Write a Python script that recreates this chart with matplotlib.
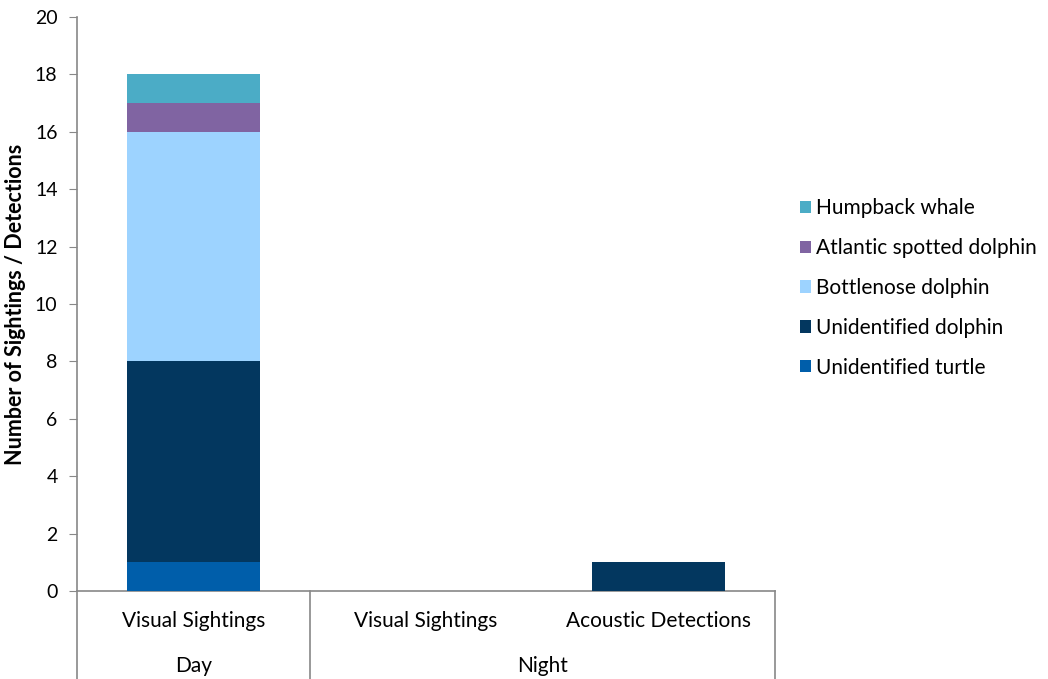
import matplotlib.pyplot as plt
import numpy as np
from matplotlib.transforms import blended_transform_factory

plt.rcParams['font.family'] = ['Lato', 'DejaVu Sans']

periods = ['Day', 'Night']
methods = ['Visual Sightings', 'Visual Sightings', 'Acoustic Detections']
period_of = [0, 1, 1]

species = ['Unidentified turtle', 'Unidentified dolphin', 'Bottlenose dolphin',
           'Atlantic spotted dolphin', 'Humpback whale']
turtle = [1, 0, 0]
unid_dolphin = [7, 0, 1]
bottlenose = [8, 0, 0]
spotted = [1, 0, 0]
humpback = [1, 0, 0]
colors = ['#005EAA', '#03375F', '#9DD3FF', '#8064A2', '#4BACC6']

fig = plt.figure(figsize=(10.48, 6.79), dpi=100)
ax = fig.add_axes([77/1048, 1-591/679, 698/1048, 574/679])

x = np.arange(len(methods))
bottom = np.zeros(len(methods))
for name, vals, c in zip(species, [turtle, unid_dolphin, bottlenose, spotted, humpback], colors):
    vals = np.array(vals, dtype=float)
    ax.bar(x, vals, 0.57, bottom=bottom, color=c, label=name, zorder=3)
    bottom += vals

ax.set_xlim(-0.5, 2.5)
ax.set_ylim(0, 20)
ax.set_yticks(np.arange(0, 21, 2))
ax.tick_params(axis='y', labelsize=14, length=6, color='#888888', pad=8)
ax.set_xticks([])
for s in ['top', 'right']:
    ax.spines[s].set_visible(False)
for s in ['left', 'bottom']:
    ax.spines[s].set_color('#888888')
    ax.spines[s].set_linewidth(1.2)
ax.set_ylabel('Number of Sightings / Detections', fontsize=15.5, fontweight='bold')
ax.yaxis.set_label_coords(-51/698, 0.5)

# two-level category axis
tr = blended_transform_factory(ax.transData, fig.transFigure)
for xi, m in zip(x, methods):
    ax.text(xi, 1-621/679, m, transform=tr, ha='center', va='center', fontsize=15)
for p in range(len(periods)):
    idx = [i for i, g in enumerate(period_of) if g == p]
    ax.text(np.mean(idx), 1-666/679, periods[p], transform=tr, ha='center', va='center', fontsize=15)
for xs in [-0.5, 0.5, 2.5]:
    ax.plot([xs, xs], [0, 1-591/679], transform=tr, color='#888888', lw=1.2, clip_on=False)

h, l = ax.get_legend_handles_labels()
fig.legend(h[::-1], l[::-1], loc='center left', bbox_to_anchor=(781/1048, 1-288/679),
           frameon=False, fontsize=15, handlelength=0.55, handleheight=0.55,
           handletextpad=0.25, labelspacing=0.95)

fig.savefig('out.png', dpi=100)
